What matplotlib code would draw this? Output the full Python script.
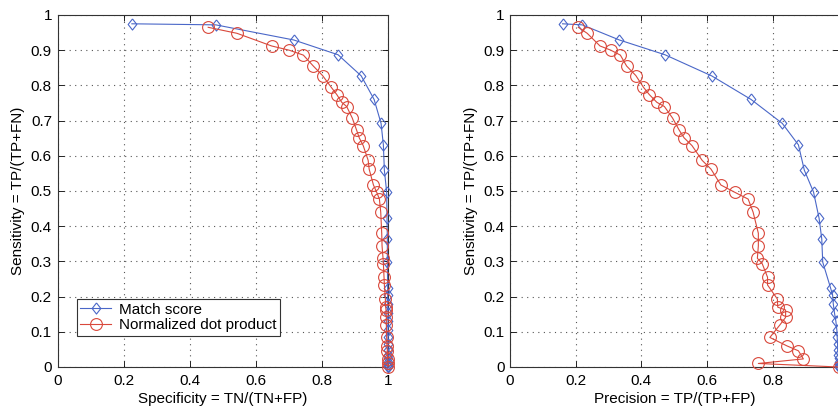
import matplotlib
matplotlib.use('Agg')
import matplotlib.pyplot as plt

plt.rcParams['font.family'] = ['Liberation Sans', 'DejaVu Sans']

# Match score (blue diamonds)
match_sens = [0.975, 0.972, 0.929, 0.887, 0.827, 0.760, 0.692, 0.631, 0.559, 0.497,
              0.422, 0.364, 0.298, 0.224, 0.205, 0.180, 0.152, 0.130, 0.105, 0.085,
              0.065, 0.048, 0.035, 0.025, 0.015, 0.008, 0.003, 0.0]
match_spec = [0.225, 0.479, 0.715, 0.849, 0.919, 0.958, 0.979, 0.986, 0.989, 0.996,
              0.997, 0.998, 0.998, 0.999, 0.999, 0.999, 1.0, 1.0, 1.0, 1.0,
              1.0, 1.0, 1.0, 1.0, 1.0, 1.0, 1.0, 1.0]
match_prec = [0.160, 0.220, 0.333, 0.472, 0.614, 0.734, 0.829, 0.878, 0.896, 0.924,
              0.941, 0.949, 0.952, 0.976, 0.982, 0.984, 0.988, 0.992, 0.995, 0.996,
              0.997, 0.998, 0.999, 1.0, 1.0, 1.0, 1.0, 1.0]

# Normalized dot product (red circles)
dot_sens = [0.965, 0.948, 0.912, 0.900, 0.886, 0.855, 0.828, 0.795, 0.774, 0.752,
            0.740, 0.707, 0.673, 0.651, 0.629, 0.587, 0.562, 0.517, 0.496, 0.477,
            0.440, 0.380, 0.344, 0.309, 0.293, 0.255, 0.233, 0.193, 0.170, 0.162,
            0.141, 0.120, 0.084, 0.060, 0.046, 0.023, 0.010, 0.0]
dot_spec = [0.456, 0.543, 0.648, 0.701, 0.744, 0.774, 0.802, 0.828, 0.845, 0.860,
            0.875, 0.892, 0.905, 0.913, 0.925, 0.940, 0.943, 0.956, 0.966, 0.974,
            0.978, 0.981, 0.982, 0.985, 0.986, 0.988, 0.989, 0.992, 0.993, 0.994,
            0.995, 0.995, 0.996, 0.997, 0.998, 0.999, 0.9995, 1.0]
dot_prec = [0.208, 0.235, 0.274, 0.307, 0.336, 0.355, 0.383, 0.406, 0.424, 0.447,
            0.470, 0.495, 0.515, 0.530, 0.554, 0.585, 0.612, 0.642, 0.685, 0.725,
            0.740, 0.756, 0.756, 0.753, 0.768, 0.784, 0.784, 0.814, 0.815, 0.839,
            0.839, 0.822, 0.791, 0.843, 0.878, 0.893, 0.756, 1.0]

xtick_vals = [0, 0.2, 0.4, 0.6, 0.8, 1]
xtick_labels = ['0', '0.2', '0.4', '0.6', '0.8', '1']
ytick_vals = [0, 0.1, 0.2, 0.3, 0.4, 0.5, 0.6, 0.7, 0.8, 0.9, 1]
ytick_labels = ['0', '0.1', '0.2', '0.3', '0.4', '0.5', '0.6', '0.7', '0.8', '0.9', '1']

blue = '#4a67c8'
red = '#d9483b'
# matlab-ish diamond, a bit wider than mpl's 'd'
diamond = [(0, 1), (0.78, 0), (0, -1), (-0.78, 0), (0, 1)]

fig = plt.figure(figsize=(8.38, 4.08), dpi=100)
ax1 = fig.add_axes([57.5 / 838, 41 / 408, 330.5 / 838, 352 / 408])
ax2 = fig.add_axes([510 / 838, 41 / 408, 328.5 / 838, 352 / 408])


def style(ax, xlabel, xlabels):
    ax.set_xlim(0, 1)
    ax.set_ylim(0, 1)
    ax.set_xticks(xtick_vals)
    ax.set_xticklabels(xlabels)
    ax.set_yticks(ytick_vals)
    ax.set_yticklabels(ytick_labels)
    ax.grid(True, linestyle=(0, (1, 4)), color='#555555', linewidth=0.8)
    ax.tick_params(direction='in', length=4, width=0.6, labelsize=11, pad=5,
                   top=True, right=True)
    ax.tick_params(axis='y', pad=4)
    for s in ax.spines.values():
        s.set_linewidth(0.8)
        s.set_color('#333333')
    ax.set_xlabel(xlabel, fontsize=11, labelpad=3)
    ax.set_ylabel('Sensitivity = TP/(TP+FN)', fontsize=11, labelpad=4)
    ax.set_axisbelow(True)


ax1.plot(match_spec, match_sens, color=blue, marker=diamond, mfc='none', mec=blue,
         ms=8, lw=0.8, mew=0.8, clip_on=False, label='Match score', zorder=3)
ax1.plot(dot_spec, dot_sens, color=red, marker='o', mfc='none', mec=red,
         ms=8.5, lw=0.8, mew=0.8, clip_on=False, label='Normalized dot product', zorder=3)
style(ax1, 'Specificity = TN/(TN+FP)', xtick_labels)
leg = ax1.legend(loc='lower left', bbox_to_anchor=(0.058, 0.088), fontsize=11,
                 fancybox=False, edgecolor='#333333', framealpha=1,
                 borderpad=0.25, labelspacing=0.1, handlelength=2.0, handletextpad=0.5,
                 borderaxespad=0)
leg.get_frame().set_linewidth(0.8)

ax2.plot(match_prec, match_sens, color=blue, marker=diamond, mfc='none', mec=blue,
         ms=8, lw=0.8, mew=0.8, clip_on=False, zorder=3)
ax2.plot(dot_prec, dot_sens, color=red, marker='o', mfc='none', mec=red,
         ms=8.5, lw=0.8, mew=0.8, clip_on=False, zorder=3)
# the right panel is cut at x=1 in the source, so its "1" label is not visible
style(ax2, 'Precision = TP/(TP+FP)', xtick_labels[:-1] + [''])

fig.savefig('out.png', dpi=100)
